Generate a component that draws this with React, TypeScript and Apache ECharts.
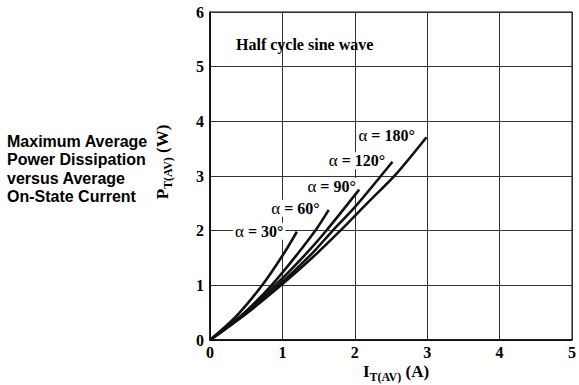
import React, { useEffect, useRef } from 'react';
import * as echarts from 'echarts';

// Conduction angles
const angles = ['30°', '60°', '90°', '120°', '180°'];

// Average on-state current I_T(AV) (A) and power P_T(AV) (W) per curve
const current30 = [0, 0.36, 0.72, 1.0, 1.2];
const power30 = [0, 0.43, 1.0, 1.54, 1.98];

const current60 = [0, 0.42, 0.85, 1.2, 1.47, 1.64];
const power60 = [0, 0.43, 1.0, 1.56, 2.03, 2.38];

const current90 = [0, 0.45, 0.9, 1.3, 1.6, 2.06];
const power90 = [0, 0.46, 1.0, 1.54, 1.99, 2.75];

const current120 = [0, 0.5, 0.95, 1.4, 1.68, 2.0, 2.36, 2.52];
const power120 = [0, 0.49, 1.0, 1.57, 1.98, 2.43, 3.0, 3.26];

const current180 = [0, 0.5, 0.98, 1.4, 1.8, 2.2, 2.56, 2.99];
const power180 = [0, 0.48, 1.0, 1.49, 2.0, 2.54, 3.02, 3.71];

const xTicks = [0, 1, 2, 3, 4, 5];
const yTicks = [0, 1, 2, 3, 4, 5, 6];

const curves = [
  [current30, power30],
  [current60, power60],
  [current90, power90],
  [current120, power120],
  [current180, power180],
];

export default function App() {
  const ref = useRef<HTMLDivElement>(null);
  useEffect(() => {
    const chart = echarts.init(ref.current!, null, { renderer: 'svg' });
    const serif = '"Liberation Serif", "Times New Roman", serif';
    const sans = '"Liberation Sans", Arial, sans-serif';

    const labelAnchors = [
      [0.68, 1.99],
      [1.18, 2.41],
      [1.68, 2.81],
      [2.03, 3.28],
      [2.44, 3.75],
    ];

    const lineSeries = curves.map(([xs, ys], i) => ({
      type: 'line',
      name: angles[i],
      data: xs.map((x, k) => [x, ys[k]]),
      showSymbol: false,
      smooth: 0.3,
      lineStyle: { color: '#111', width: 2.6 },
      z: 3,
    }));

    const option: any = {
      animation: false,
      backgroundColor: '#fff',
      grid: {
        left: 210,
        top: 12,
        width: 363,
        height: 328,
        show: true,
        borderColor: '#000',
        borderWidth: 1,
      },
      xAxis: {
        type: 'value',
        min: xTicks[0],
        max: xTicks[xTicks.length - 1],
        interval: 1,
        axisLine: { show: true, lineStyle: { color: '#000', width: 1.5 } },
        axisTick: { show: false },
        splitLine: { show: true, lineStyle: { color: '#333', width: 1 } },
        axisLabel: {
          color: '#000',
          fontFamily: serif,
          fontWeight: 'bold',
          fontSize: 16,
          margin: 4,
        },
      },
      yAxis: {
        type: 'value',
        min: yTicks[0],
        max: yTicks[yTicks.length - 1],
        interval: 1,
        axisLine: { show: true, lineStyle: { color: '#000', width: 1.5 } },
        axisTick: { show: false },
        splitLine: { show: true, lineStyle: { color: '#333', width: 1 } },
        axisLabel: {
          color: '#000',
          fontFamily: serif,
          fontWeight: 'bold',
          fontSize: 16,
          margin: 6,
        },
      },
      series: [
        ...lineSeries,
        {
          type: 'scatter',
          data: labelAnchors,
          symbolSize: 0,
          z: 2,
          silent: true,
          itemStyle: { opacity: 1, color: '#000' },
          label: {
            show: true,
            position: 'inside',
            color: '#000',
            opacity: 1,
            textBorderWidth: 0,
            backgroundColor: '#fff',
            padding: [0, 2],
            formatter: (p: any) => `{a|α}{b| = ${angles[p.dataIndex]}}`,
            rich: {
              a: { fontFamily: serif, fontSize: 17, color: '#000', fontWeight: 'normal' },
              b: { fontFamily: serif, fontSize: 16, color: '#000', fontWeight: 'bold' },
            },
          },
        },
      ],
      graphic: [
        {
          type: 'text',
          x: 236,
          y: 44,
          z: 10,
          style: {
            text: 'Half cycle sine wave',
            font: `bold 16px ${serif}`,
            fill: '#000',
            verticalAlign: 'middle',
          },
        },
        {
          type: 'text',
          x: 7,
          y: 132,
          z: 10,
          style: {
            text: 'Maximum Average\nPower Dissipation\nversus Average\nOn-State Current',
            font: `bold 16px ${sans}`,
            lineHeight: 18.5,
            fill: '#000',
            verticalAlign: 'top',
          },
        },
        {
          type: 'text',
          x: 162,
          y: 162,
          rotation: Math.PI / 2,
          z: 10,
          style: {
            text: '{p|P}{s|T(AV)}{p| (W)}',
            align: 'center',
            verticalAlign: 'middle',
            rich: {
              p: { fontFamily: serif, fontWeight: 'bold', fontSize: 17, fill: '#000', lineHeight: 24, verticalAlign: 'middle' },
              s: { fontFamily: serif, fontWeight: 'bold', fontSize: 12, fill: '#000', verticalAlign: 'bottom' },
            },
          },
        },
        {
          type: 'text',
          x: 396,
          y: 371,
          z: 10,
          style: {
            text: '{p|I}{s|T(AV)}{p| (A)}',
            align: 'center',
            verticalAlign: 'middle',
            rich: {
              p: { fontFamily: serif, fontWeight: 'bold', fontSize: 17, fill: '#000', lineHeight: 24, verticalAlign: 'middle' },
              s: { fontFamily: serif, fontWeight: 'bold', fontSize: 12, fill: '#000', verticalAlign: 'bottom' },
            },
          },
        },
      ],
    };
    chart.setOption(option);
    return () => chart.dispose();
  }, []);
  return (
    <div
      ref={ref}
      style={{ position: 'fixed', left: 0, top: 0, width: 579, height: 385, background: '#fff' }}
    />
  );
}
